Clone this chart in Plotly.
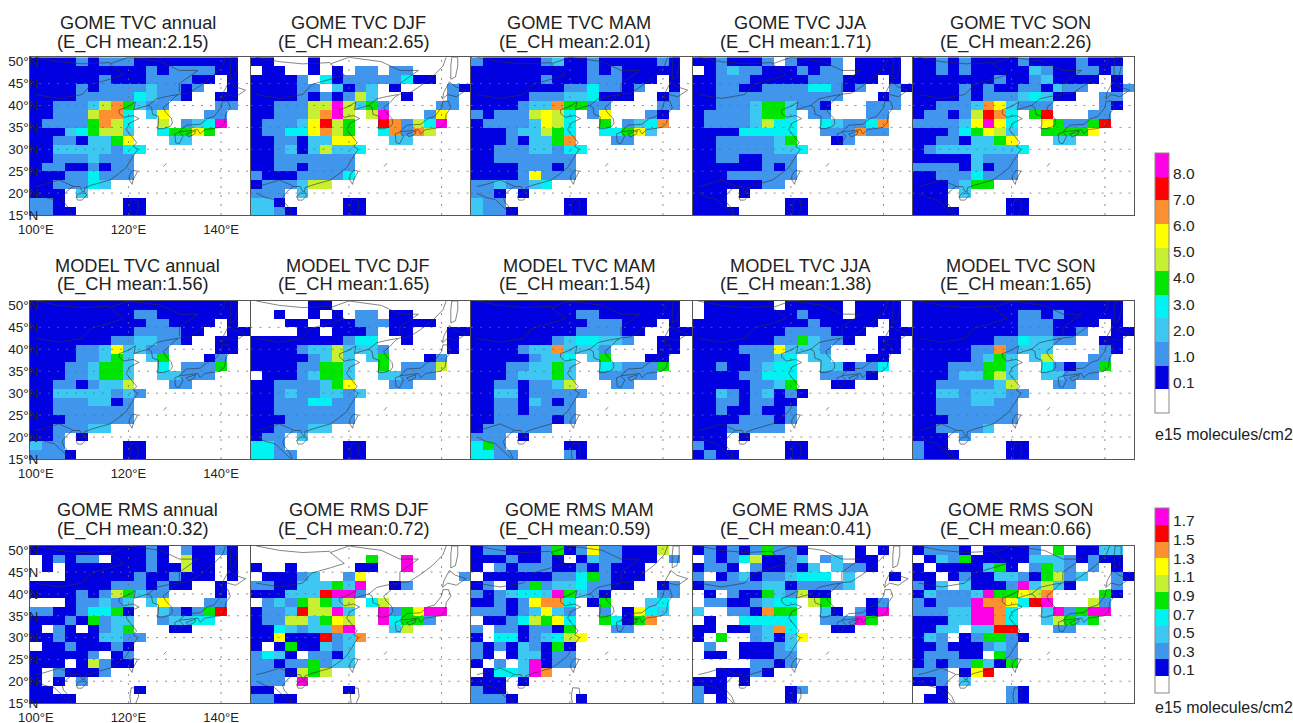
import plotly.graph_objects as go

# Map grid cell centres (2.5 deg x 2 deg)
LON = [100 + 2.5 * i for i in range(19)]
LAT = [50 - 2 * i for i in range(18)]

# Colour class per cell, north to south: 0 = below 0.1 ... A = top class (trailing zeros omitted)
GOME_TVC_ANNUAL = ["1111 2 1 222 111111111 0","1111111111 2 1 2222 11 0","111111 2 111 2222 11 0 1 0","1111 2 1 2222 3 22 1 2 00 1 0","1111 22222 4 3 22 1 00 1 1 0","11 222 3 6 8 5 3 22 0000 22 0","11 222 6 88 4 0 3 7 000 22","1 2222 5 8 6 4 00 6 0 2 3 4 A","111 3 4 5 66 3 00 4 55 7 5","11 22 1 33 5 7 000 33","11 333 33 2 44","11 222 3 222","1 22 11 2 1 22","111 22 4 222","11 222 4 3","111 0 3","22 1 00000 11","22 11 0000 11"]
GOME_TVC_DJF = ["11 000 1","0 11 00 1 0 1 0 22 0 22","1111 2 0 4 1 22222 4 11","1111 22 0 3 1 2 3 0 1 0000 2 1","1111 2 1 2 1 2 6 3 00 1 000 2","11222 66A6 35 2 0000 22","11222 6 8 A 6 0 6 A 000 2 7","1 222 3 7 9 6 5 00 9 8 2 6 4 A","1 22 4 4 7 8 6 5 00 4 8 2 8 6","11 22 1 3 3 77 000 33","11 2 3 1 3 6 33 4","11 2222222","11 22 1 2222","2 111 2222 4","1 222 3 66","222 0 3","33 1 00000 11","33 2 1 0000 11"]
GOME_TVC_MAM = ["2 11111 23 11 2 11111 2 1 0","1111111111 2 1 2 11111 0","111111 2 111 222 111 0 1 0","11111111 22 4 22 1 2 00 1 0","11111 222 3 3 4 111 00 1 2 0","1111 2 3 3 8 5 5 2 2 0000 22","2 1 222 6 7 6 4 0 2 7 000 2 1","1 2222 3 7 6 4 00 5 0 2 3 4 8","111 2 3 3 6 5 4 00 4 4 5 7 3","111 2 1 33 5 8 000 22","11 222 33 2 44","11 2222222","1111 222 1 2","1111 2 7 222","2 2 3 2 2 3 4","22 1 0 1","3 22 00000 11","3 22 1 0000 11"]
GOME_TVC_JJA = ["11 2 111 2 0 2 111 2 0 1111 0","0 1 2 3 2 2 111 2 1 2 2 0 1111 0","11 222 11111 22 2111 0 1 0","11 22 11 2222 44 2 1 2 00 2 1","11 22222222222 000 1 2","11 222 3 55 3 22 1 000 222","1 2222 3 55 3 0 22 000 22","1 2222 3 6 44 00 4 3 2 2 4 8","1111 44444 00 222 8 22","11 222 2 2 3 5 000 1 2","11 22222 3 3 4","11 22 11 222","111111 2 1 2","111 222222","111111 22","111 0 1","111 00000 11","1111 0000 11"]
GOME_TVC_SON = ["11 2 1 2 1111 2 1111 2 111 0","11 2 1 2 11111 3 2 11 22 1 2 0","1111111 2 11 2 3 1111 0 1 0","1111 2 1 2 11 22 1 3 22 00 1 2","1111 2 1 222 3 4 3 11 00 22","11 222 3 8 7 3 222 0000 2 1","1 22 1 2 6 9 8 4 0 5 9 000 22","2222 3 7 A 7 4 00 7 5 22 5 9","111 2 4 5 7 6 3 00 5555 7","11 22 1 33 5 7 000 33","1 2 3333333 4","11111 3 222","2222 1 3 1 22","11 222 4 222","111 2 3 55","111 0 3","111 00000 11","1111 0000 11"]
MODEL_TVC_ANNUAL = ["111111111111111111 0","111111111 22 1111111 0","1111111111 22 1111 0 1 0","111111111 2222 11 00 11","1111111 22 33 22 1 00 11","1111 22 3 7 3 3 22 0000 11","1111 22 3 5 3 0 3 5 000 1 2","111 22 3 55 3 00 4 0 222 5","111 22 3 55 3 00 33 222","11 22 1 2 33 6 000 22","11 333 33 2 3 2","11 222 33 1 2","11 2222222","111 222222","11 22 2 33","11 2 0 1","3 22 00000 11","222 1 0000 11"]
MODEL_TVC_DJF = ["00000 11","00 1 00 1 0 1 0 22 0 11","000 11 0 111 222 1111","0000 11 0 111 2 0 11 000 11","11111111 2 44 00 1 000 1","1111 2 3 3 6 333 2 00000 1","11111 2 3 6 3 0 3 5 000 1 2","1111 22 55 3 00 5 0 222 6","0 111 2 3 55 3 00 33 222","11 2222 3 5 7 000 22","11 2 3 22 33 2 3","11 222 44 22","11 2222222","111 222222","11 22 2 33","1 22 0 3","44 2 00000 11","44 22 0000 11"]
MODEL_TVC_MAM = ["111111111111111111 0","111111111 22 1111111 0","1111111111 222 111 0 1 0","111111111 2222 11 00 11","1111111 2 3 44 33 2 00 11","1111 2 33 8 333 2 0000 11","11111 2 33 4 0 3 5 000 11","111 22 33 5 3 00 4 3 222 5","111 2 333 5 3 00 22222","11 22 1 22 3 6 000 22","11 33 1 22 2 2 2","11 22 1 3 2 1 2","11 22 1 2222","11 22222 1 2","1 222222","222 0 1","4 5 2 00000 11","44 22 0000 2 1"]
MODEL_TVC_JJA = ["0 111111 0 11111 0 1111 0","0 11111111 2 111 0 1111 0","1111111111 2 11111 0 1 0","11111111 2222 111 00 11","1111111 22 5 3 22 1 00 11","1111 222 7 333 2 0000 11","11111 22 3 4 0 33 000 11","11 2 11 2 3 44 00 33 1 22 4","1111 22 444 00 2222 1","11111 22 3 5 000 11","11 3 2 1 2 3 1 2 1","11 22 1 22 11","11 2 11 2 11 2","1111 222 1 2","111 22222","111 0 1","2 11 00000 11","1 2 11 0000 11"]
MODEL_TVC_SON = ["111111111111111111 0","111111111 22 1 2 11111 0","111111111 222 1111 0 1 0","111111111 222 11 2 00 11","1111111 22 4 3 3 22 00 11","11111 22 8 2 333 0000 2 1","11111 2 3 5 3 0 3 6 000 22","111 222 55 3 00 4 2 1 22 5","111 2 33 5 6 3 00 33 222","11 22222 3 6 000 22","11 33 2 333 22","11 222 33 22","11 2222222","111 222222","11 2222 3","111 0 2","2 11 00000 11","2 111 0000 11"]
GOME_RMS_ANNUAL = ["1111111111 2 1 0 2 11 2 1 0","0 1 2 1 22 0 111 2 1 0 6 11 0 1 0","0 1 0 1111111 2 11 6 11 0 1 0","000 111111 2 11 2 111 0 1 0","1111111 222 1 2 11 00 1","1111 2 1 2 6 5 3 22 0000 1","000 1 22 3 2 3 0 3 7 000 22","22 11 2 44 5 1 00 3 2 1 2 5 9","111 2 1 5 2 33 00 2 33 44","1 0 2 1 0 1 2 3 5 000 11","11 2 111 33 22","0 11 2 111 2 1","11111 2 0 1 2","111 0 1 6 2 11","1 0 2 111 2","1 0 1 0 2","11 0000000 1","1111"]
GOME_RMS_DJF = ["0","0000000000 5 00 A","1 00 1 00000 11 00 A","0 111 2 3 00 2 7 00000000 2","22 11 333 5 3 A 00 1 2","111 333 9 AA 2","0 2 3 2 5 6 5 3 6 0 4 6","1 22 3 9 66 A 3 00 A 2 5 7 AA","1 22 66 3 5 7 6 00 A 4 55 2","11 4 3 2 33 8 A 000 3 6","11 7 111 9 2 3 8","1 0 1 5 11 3 2 3","2 4 3 1 0 22 1 3","22 1 22 5 2 33","222 1 6 5 6","222 0 A","11 000000 1","22 11"]
GOME_RMS_MAM = ["1 22 111 2 5 1 2 7 22 111 6","111 2 11 2 1 0 1 3 22 111 0 2","1 0 2 1 222 11 2 1 2 111","0 111111 22 4 5 2 111","1 2 0 1 2 5 2 3 3 4 22 11 00 1 2","2 1 2 3 4 4 3 A 5 3 2 1 0000 22","11 2 1 2 7 88 4 0 1 5 000 3 4","222 1 2 3 7 3 2 00 2 0 1 7 4 3","0 11 2 4 6 5 7 4 00 5 4 1 5 8","2 0 22 1 22 1 5 000 22","1 0 44 1 2 3 4 6 7","2 1 2 1 3 2 1 5 1","2 1 0 1 33 1 22","1 0 2 0 3 A 1 22","0 1 44 3 A 8","111 0 1","2 11","222 1 00000 1"]
GOME_RMS_JJA = ["1 2 1 2 1 2 5 22 1 0000 1 0 1","0 2 1 2 4 6 11 2 3 0 2 3 0 11","1 22 1 0 2 11 2 1 3 0 3 22 1","2 0 1 2 3 1 22 3 444 0 3 000 1","1 22222 33 1 2222 3","0 1 0 2 11 5 3 2 6 11","0 22 11 2 3 44 0 6 5 000 1 2","3 00 22 1 8 55 00 3 1 0 2 1 A","0 1 00 44444 00 222 A 5","11 0 11 2 3 8 4 000 11","1 0 5 00 2 3 1 3 7","0 2 00 111 2 3","0 11 0 111 22","00000 22 1 2","00 111 2 1","111 0 1","2 11 00000 1 2","2 0 1 00000 1"]
GOME_RMS_SON = ["1 222 1 0 1111 2 0 5 0 11 33 0","0 1 3 2 5 11111 333 2 1 2 11 0","1 0 1111 3 5 1 0 2 5 3 2 0 2 0 1 0","11 0 1 2 11 33 2 1 5 6 2 3 00 2 1","2 1 3 0 3 111 2 A 3 6 3 1 000 2","1 3 222 3 A 55 7 6 8 0000 5 1","2 1 222 A 88 7 4 9 A 000 6 2","222 33 AA 8 4 00 3 A 2 5 AA","111 33 AA 8 4 00 3 6 5 3 5","11 33 0 33 99 000 22","1 3 2 0 1 2 55 2 1","11 2 111 2 3 2","1 222 11 0 5 2","1 2 1 22 5 3 1 5","222 0 1 7 9","11 2 0 3","00 1 00000 2 1","0 11 00000 2 1"]

PANEL_GRIDS = [GOME_TVC_ANNUAL, GOME_TVC_DJF, GOME_TVC_MAM, GOME_TVC_JJA, GOME_TVC_SON,
               MODEL_TVC_ANNUAL, MODEL_TVC_DJF, MODEL_TVC_MAM, MODEL_TVC_JJA, MODEL_TVC_SON,
               GOME_RMS_ANNUAL, GOME_RMS_DJF, GOME_RMS_MAM, GOME_RMS_JJA, GOME_RMS_SON]
ROW_NAMES = ["GOME TVC", "MODEL TVC", "GOME RMS"]
SEASONS = ["annual", "DJF", "MAM", "JJA", "SON"]
MEANS = ["2.15", "2.65", "2.01", "1.71", "2.26", "1.56", "1.65", "1.54", "1.38", "1.65",
         "0.32", "0.72", "0.59", "0.41", "0.66"]
TVC_LEVELS = ["0.1", "1.0", "2.0", "3.0", "4.0", "5.0", "6.0", "7.0", "8.0"]
RMS_LEVELS = ["0.1", "0.3", "0.5", "0.7", "0.9", "1.1", "1.3", "1.5", "1.7"]
CLASS_COLORS = ["#ffffff", "#0000e0", "#3f96ec", "#3cc8f2", "#00f2f2", "#00e600",
                "#c8f032", "#ffff00", "#ff9030", "#ff0000", "#ff00e6"]
UNIT = "e15 molecules/cm2"

# Coast and border lines (lon, lat)
COASTS = [
    [(107.8,15),(107.2,16.5),(106,18),(105.7,19),(106.6,20.3),(108,21.5),(109.5,21.5),(110,20.4),(110.5,20.4),(110.5,21.2),(112,21.8),(114,22.4),(116,23),(118,24.5),(119.5,25.8),(120.5,27.5),(121.5,29),(122,30),(121,30.7),(121.8,31.5),(120.8,32.8),(119.5,34.5),(120.3,36),(122.3,37),(121,37.7),(119,37.3),(118,38.2),(118,39),(120,39.8),(121.5,40.8),(121.2,39),(122.5,39.5),(124.3,40),(125,39.5),(125.2,38),(126.5,37.5),(126.5,36),(126.3,34.7),(127.5,34.7),(129,35.2),(129.5,36),(129.3,37),(128,38.5),(127.5,39.5),(129,40.8),(130,42),(131,42.6),(133,42.8),(135.5,44.5),(138,46.5),(140.3,49),(141,51)],
    [(108.7,19.3),(109.5,20),(110.7,20),(111,19.6),(110,18.4),(109,18.4),(108.7,19.3)],
    [(121,25.2),(122,25),(121,23),(120.8,22),(120.2,23),(120.2,24),(121,25.2)],
    [(131,34),(132.5,35.5),(135.5,35.7),(137,37),(138.5,37.5),(140,39.5),(140.3,41),(141.5,41),(142,39.5),(141,38),(140.8,36),(139.8,35),(138,34.7),(136.5,34.5),(135.5,33.5),(135,34.5),(133,34.2),(131,34)],
    [(130,33.5),(131,33.9),(131.8,33),(131,31.3),(130.2,31.5),(130,33.5)],
    [(132.5,33.5),(134.5,34.2),(134.3,33.5),(133,32.8),(132.5,33.5)],
    [(140.2,41.5),(140.5,43),(141.7,45.4),(143,44.3),(145.3,43.5),(143.2,42),(141.3,42.5),(140.2,41.5)],
    [(142,46),(142,49),(142.2,51),(143.5,51),(143.5,49),(143,46.5),(142,46)],
    [(127.6,26.1),(128.2,26.8)],
    [(120.5,15),(120.3,16.5),(120.6,18.5),(122,18.4),(122.2,16.5),(121.6,15)],
    [(100,42.5),(105,41.6),(110,42.5),(112,44.8),(116,46),(119,47),(116,49.5),(120,51)],
    [(100,51),(105,50),(110,49.5),(116,49.8)],
    [(124.3,40),(126,41.5),(128,42),(130.6,42.5)],
    [(120,51),(127,50),(131,48),(135,48),(131,45),(131,43)],
    [(100,21.5),(102,22),(105,23),(108,21.6)],
    [(100,20),(102,19),(104,18.5),(105.5,17),(107.5,15)],
]
LON_GRID = [100, 120, 140]
LAT_GRID = [20, 25, 30, 35, 40, 45, 50]

W, H = 1293, 723
PANEL_X = [(30, 250), (250.5, 470.5), (471, 692), (692.5, 912.5), (912.5, 1134)]
ROW_Y = [(57.3, 215), (301, 459), (546, 703)]
TITLE_Y = [(23, 42), (266, 285), (510, 529)]
TEXT = "#222222"
FONT = "Liberation Sans, Arial, sans-serif"

def px(x):
    return x / W

def py(y):
    return 1 - y / H

def decode(grid):
    out = []
    for row in grid:
        s = row.replace(" ", "").ljust(19, "0")[:19]
        out.append([int(c, 16) for c in s])
    while len(out) < 18:
        out.append([0] * 19)
    return out

def stepped(colors):
    n = len(colors)
    scale = []
    for i, c in enumerate(colors):
        scale += [[i / n, c], [(i + 1) / n, c]]
    return scale

fig = go.Figure()
layout = {}
annotations = []

coast_x, coast_y = [], []
for line in COASTS:
    coast_x += [p[0] for p in line] + [None]
    coast_y += [p[1] for p in line] + [None]
grid_x, grid_y = [], []
for lon in LON_GRID[1:]:
    grid_x += [lon, lon, None]
    grid_y += [15, 51, None]
for lat in LAT_GRID[:-1]:
    grid_x += [98.75, 146.25, None]
    grid_y += [lat, lat, None]

for r in range(3):
    for c in range(5):
        k = r * 5 + c
        suffix = "" if k == 0 else str(k + 1)
        fig.add_trace(go.Heatmap(
            x=LON, y=LAT, z=decode(PANEL_GRIDS[k]),
            coloraxis="coloraxis2" if r == 2 else "coloraxis",
            xaxis="x" + suffix, yaxis="y" + suffix, xgap=0, ygap=0, hoverinfo="skip"))
        fig.add_trace(go.Scatter(
            x=grid_x, y=grid_y, mode="lines", showlegend=False, hoverinfo="skip",
            line=dict(color="rgba(110,110,110,0.75)", width=1, dash="2px,7px"),
            xaxis="x" + suffix, yaxis="y" + suffix))
        fig.add_trace(go.Scatter(
            x=coast_x, y=coast_y, mode="lines", showlegend=False, hoverinfo="skip",
            line=dict(color="rgba(50,50,50,0.75)", width=0.8),
            xaxis="x" + suffix, yaxis="y" + suffix))
        x0, x1 = PANEL_X[c]
        y0, y1 = ROW_Y[r]
        layout["xaxis" + suffix] = dict(
            domain=[px(x0), px(x1)], range=[98.75, 146.25], anchor="y" + suffix,
            automargin=False, showgrid=False, zeroline=False, showline=True, mirror=True,
            linecolor="#555555", linewidth=1, ticks="",
            tickmode="array",
            tickvals=LON_GRID if c == 0 else [],
            ticktext=[f"{v}°E" for v in LON_GRID] if c == 0 else [],
            ticklabelstandoff=2,
            tickfont=dict(family=FONT, size=13, color=TEXT))
        layout["yaxis" + suffix] = dict(
            domain=[py(y1), py(y0)], range=[15, 51], anchor="x" + suffix,
            automargin=False, showgrid=False, zeroline=False, showline=True, mirror=True,
            linecolor="#555555", linewidth=1, ticks="",
            tickmode="array",
            tickvals=[15] + LAT_GRID if c == 0 else [],
            ticktext=[f"{v}°N" for v in [15] + LAT_GRID] if c == 0 else [],
            ticklabelstandoff=-12 if c == 0 else 0,
            tickfont=dict(family=FONT, size=13.5, color=TEXT))
        cx = (x0 + x1) / 2
        ty1, ty2 = TITLE_Y[r]
        annotations.append(dict(
            x=px(cx - 2.5), y=py(ty1), xref="paper", yref="paper", showarrow=False,
            text=f"{ROW_NAMES[r]} {SEASONS[c]}", xanchor="center", yanchor="middle",
            font=dict(family=FONT, size=18.2, color=TEXT)))
        annotations.append(dict(
            x=px(cx - 7), y=py(ty2), xref="paper", yref="paper", showarrow=False,
            text=f"(E_CH mean:{MEANS[k]})", xanchor="center", yanchor="middle",
            font=dict(family=FONT, size=18.2, color=TEXT)))

for y in (434, 707):
    annotations.append(dict(
        x=px(1153), y=py(y), xref="paper", yref="paper", showarrow=False, text=UNIT,
        xanchor="left", yanchor="middle", font=dict(family=FONT, size=16, color=TEXT)))

def axis_bar(labels, top, length, first_tick, last_tick, font):
    step = (last_tick - first_tick) / (len(labels) - 1)
    return dict(
        cmin=-0.5, cmax=10.5, colorscale=stepped(CLASS_COLORS),
        colorbar=dict(
            x=px(1155), xanchor="left", y=py(top), yanchor="top",
            lenmode="pixels", len=length, thicknessmode="pixels", thickness=14,
            xpad=0, ypad=0, outlinecolor="#888888", outlinewidth=1, ticks="",
            tickmode="array", tickvals=[first_tick + i * step for i in range(len(labels))],
            ticktext=labels, ticklabelposition="outside",
            tickfont=dict(family=FONT, size=font, color=TEXT)))

fig.update_layout(
    width=W, height=H, margin=dict(l=0, r=0, t=0, b=0, pad=0),
    paper_bgcolor="white", plot_bgcolor="white", showlegend=False,
    coloraxis=axis_bar(TVC_LEVELS, 153, 260, 0.77, 9.65, 15.5),
    coloraxis2=axis_bar(RMS_LEVELS, 508, 185, 0.87, 9.73, 15.5),
    annotations=annotations, **layout)

fig.write_html("out.html", config={"displayModeBar": False},
               post_script="document.body.style.margin='0';")
